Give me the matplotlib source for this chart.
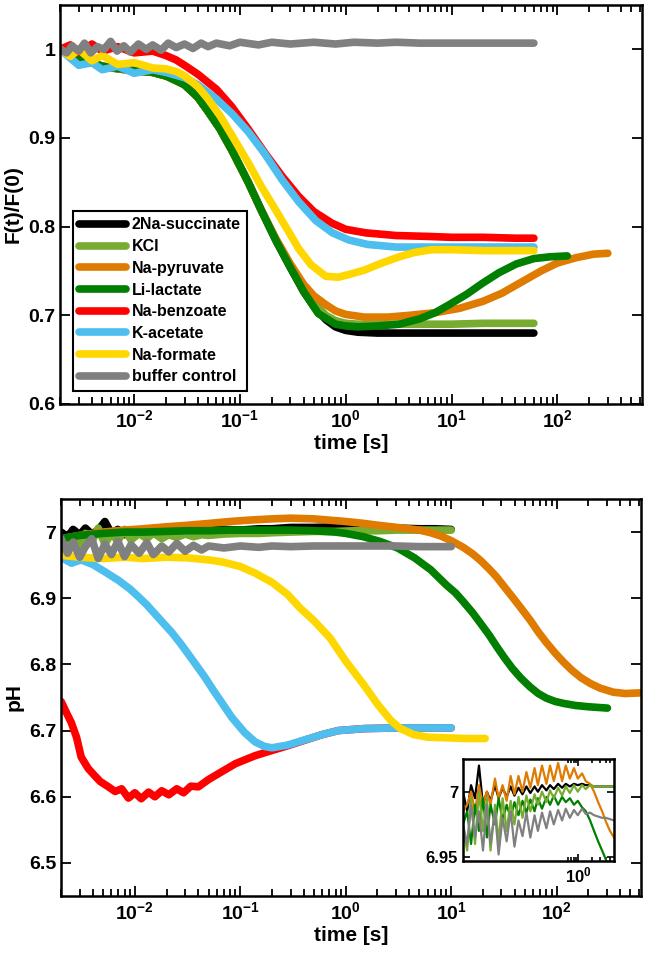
import numpy as np
import matplotlib
matplotlib.use('Agg')
import matplotlib.pyplot as plt
from matplotlib.ticker import FixedLocator, NullFormatter, LogFormatterSciNotation

plt.rcParams['font.family'] = ['Liberation Sans', 'DejaVu Sans']
plt.rcParams['font.weight'] = 'bold'
plt.rcParams['axes.labelweight'] = 'bold'
plt.rcParams['mathtext.fontset'] = 'custom'
plt.rcParams['mathtext.rm'] = 'Liberation Sans:bold'
plt.rcParams['mathtext.bf'] = 'Liberation Sans:bold'
plt.rcParams['mathtext.it'] = 'Liberation Sans:bold:italic'

# colours / names
names = ['2Na-succinate', 'KCl', 'Na-pyruvate', 'Li-lactate',
         'Na-benzoate', 'K-acetate', 'Na-formate', 'buffer control']
cols = ['#000000', '#77AC30', '#DE7B00', '#007F00',
        '#FF0000', '#4DBEEE', '#FFD700', '#808080']

# ---------------- top panel: F(t)/F(0) ----------------
t_suc = [0.002, 0.0025, 0.003, 0.004, 0.005, 0.007, 0.01, 0.015, 0.02, 0.025, 0.03, 0.04, 0.05,
         0.065, 0.085, 0.12, 0.16, 0.22, 0.3, 0.4, 0.5, 0.65, 0.8, 1.0, 1.3, 2, 3, 5, 10, 20,
         40, 60]
f_suc = [1.0, 0.994, 0.99, 0.985, 0.981, 0.978, 0.976, 0.974, 0.97, 0.966, 0.96, 0.946, 0.93,
         0.91, 0.885, 0.85, 0.818, 0.784, 0.754, 0.727, 0.71, 0.695, 0.687, 0.683, 0.681, 0.68,
         0.68, 0.68, 0.68, 0.68, 0.68, 0.68]
t_kcl = t_suc
f_kcl = [1.0, 0.994, 0.99, 0.985, 0.981, 0.978, 0.976, 0.974, 0.97, 0.966, 0.96, 0.946, 0.93,
         0.91, 0.885, 0.85, 0.818, 0.785, 0.756, 0.73, 0.714, 0.7, 0.694, 0.691, 0.69, 0.69,
         0.69, 0.69, 0.69, 0.691, 0.691, 0.691]
t_pyr = [0.002, 0.003, 0.005, 0.01, 0.015, 0.02, 0.03, 0.04, 0.05, 0.065, 0.085, 0.12, 0.16,
         0.22, 0.3, 0.4, 0.5, 0.65, 0.8, 1.0, 1.5, 2.5, 4, 7, 12, 20, 30, 45, 70, 100, 150,
         220, 300]
f_pyr = [1.0, 0.99, 0.981, 0.976, 0.974, 0.97, 0.96, 0.946, 0.93, 0.91, 0.885, 0.85, 0.818,
         0.786, 0.758, 0.735, 0.722, 0.712, 0.705, 0.701, 0.698, 0.698, 0.70, 0.703, 0.708,
         0.716, 0.725, 0.737, 0.75, 0.759, 0.765, 0.769, 0.77]
t_lac = [0.002, 0.003, 0.005, 0.01, 0.015, 0.02, 0.03, 0.04, 0.05, 0.065, 0.085, 0.12, 0.16,
         0.22, 0.3, 0.4, 0.55, 0.8, 1.0, 1.3, 2, 3.2, 5, 7, 9.5, 14, 19.5, 28, 41, 60, 85, 124]
f_lac = [1.0, 0.99, 0.981, 0.976, 0.974, 0.97, 0.96, 0.946, 0.93, 0.91, 0.885, 0.85, 0.818,
         0.784, 0.754, 0.727, 0.702, 0.69, 0.688, 0.687, 0.688, 0.69, 0.696, 0.703, 0.712,
         0.724, 0.736, 0.748, 0.758, 0.764, 0.766, 0.767]
t_ben = [0.002, 0.0025, 0.003, 0.004, 0.005, 0.007, 0.01, 0.015, 0.02, 0.025, 0.03, 0.04, 0.06,
         0.083, 0.12, 0.175, 0.25, 0.36, 0.5, 0.74, 1.0, 1.55, 3, 6, 10, 20, 40, 60]
f_ben = [1.0, 1.005, 0.996, 1.006, 0.998, 1.003, 0.996, 0.998, 0.993, 0.988, 0.982, 0.972,
         0.955, 0.936, 0.91, 0.882, 0.857, 0.834, 0.817, 0.804, 0.797, 0.793, 0.79, 0.789,
         0.788, 0.788, 0.787, 0.787]
t_ace = [0.002, 0.0025, 0.003, 0.004, 0.005, 0.007, 0.01, 0.015, 0.02, 0.03, 0.04, 0.06, 0.085,
         0.12, 0.17, 0.25, 0.36, 0.52, 0.75, 1.07, 1.6, 3, 6, 10, 20, 40, 60]
f_ace = [1.0, 0.99, 0.982, 0.985, 0.977, 0.981, 0.973, 0.977, 0.974, 0.968, 0.96, 0.944,
         0.927, 0.907, 0.883, 0.853, 0.828, 0.807, 0.793, 0.785, 0.78, 0.777, 0.777, 0.777,
         0.777, 0.777, 0.777]
t_for = [0.002, 0.0025, 0.003, 0.004, 0.005, 0.007, 0.01, 0.015, 0.02, 0.025, 0.03, 0.04, 0.05,
         0.065, 0.085, 0.12, 0.16, 0.22, 0.28, 0.36, 0.47, 0.65, 0.85, 1.07, 1.5, 2.2, 3.2,
         4.5, 6.5, 10, 20, 40, 60]
f_for = [1.0, 0.992, 1.0, 0.987, 0.993, 0.983, 0.985, 0.979, 0.978, 0.975, 0.97, 0.958, 0.944,
         0.925, 0.902, 0.872, 0.845, 0.818, 0.797, 0.775, 0.757, 0.744, 0.743, 0.746, 0.751,
         0.759, 0.766, 0.771, 0.774, 0.774, 0.773, 0.773, 0.773]
t_buf = [0.002, 0.0023, 0.0026, 0.003, 0.0034, 0.0039, 0.0045, 0.0052, 0.006, 0.0069, 0.008,
         0.0092, 0.011, 0.013, 0.015, 0.018, 0.021, 0.025, 0.03, 0.036, 0.043, 0.05, 0.06, 0.08,
         0.1, 0.15, 0.2, 0.3, 0.5, 0.8, 1.2, 2, 3, 5, 8, 12, 20, 30, 45, 60]
f_buf = [1.0, 0.996, 1.004, 0.998, 1.007, 0.996, 1.003, 1.0, 1.009, 0.998, 1.004, 0.997, 1.006,
         1.0, 1.005, 0.999, 1.007, 1.002, 1.006, 1.001, 1.007, 1.003, 1.007, 1.004, 1.008, 1.005,
         1.008, 1.006, 1.008, 1.006, 1.008, 1.007, 1.008, 1.007, 1.007, 1.007, 1.007, 1.007,
         1.007, 1.007]

# ---------------- bottom panel: pH ----------------
t_noise = [0.002, 0.0023, 0.0026, 0.003, 0.0034, 0.0039, 0.0045, 0.0052, 0.006, 0.0069, 0.008,
           0.0092, 0.011, 0.013, 0.015, 0.018, 0.021, 0.025, 0.03, 0.036, 0.043, 0.05, 0.07,
           0.1, 0.15, 0.2, 0.3, 0.5, 0.8, 1.2, 2, 3, 5, 7, 10]
p_suc = [7.0, 6.993, 7.004, 6.996, 7.006, 6.997, 7.003, 7.016, 6.998, 7.004, 6.996, 7.002,
         6.997, 7.003, 6.998, 7.003, 6.999, 7.002, 7.0, 7.003, 7.001, 7.003, 7.004, 7.003, 7.005,
         7.005, 7.007, 7.007, 7.008, 7.007, 7.006, 7.006, 7.005, 7.005, 7.004]
p_kcl = [6.972, 6.982, 6.993, 6.978, 6.998, 6.985, 7.006, 6.982, 6.998, 6.986, 7.004, 6.988,
         6.998, 6.99, 6.999, 6.99, 6.996, 6.992, 6.997, 6.993, 6.996, 6.995, 6.997, 6.998, 6.998,
         6.999, 7.0, 7.001, 7.001, 7.002, 7.002, 7.003, 7.003, 7.003, 7.003]
pt_pyr = [0.002, 0.003, 0.005, 0.008, 0.012, 0.02, 0.03, 0.05, 0.08, 0.12, 0.2, 0.3, 0.5, 0.7,
          1.0, 1.5, 2.1, 3.5, 5, 6.4, 8, 10, 13, 16, 19, 23, 27, 32, 38, 46, 56, 67, 80, 97,
          117, 140, 170, 210, 260, 345, 450, 620]
p_pyr = [6.99, 6.995, 7.0, 7.003, 7.005, 7.008, 7.01, 7.013, 7.016, 7.018, 7.02, 7.021, 7.02,
         7.018, 7.016, 7.013, 7.01, 7.006, 7.003, 6.999, 6.994, 6.987, 6.977, 6.967, 6.957,
         6.944, 6.932, 6.917, 6.902, 6.885, 6.867, 6.849, 6.833, 6.817, 6.803, 6.791, 6.78,
         6.771, 6.764, 6.758, 6.756, 6.757]
pt_lac = [0.002, 0.003, 0.005, 0.008, 0.012, 0.02, 0.03, 0.05, 0.08, 0.12, 0.2, 0.3, 0.5, 0.8,
          1.0, 1.47, 2.1, 3.1, 4.5, 6.4, 9, 11, 13, 16, 19, 23, 27, 32, 38, 46, 56, 67, 80,
          97, 117, 150, 200, 303]
p_lac = [6.99, 6.995, 6.998, 7.0, 7.0, 7.001, 7.002, 7.002, 7.003, 7.003, 7.003, 7.003, 7.002,
         7.0, 6.998, 6.993, 6.986, 6.976, 6.961, 6.943, 6.92, 6.908, 6.895, 6.878, 6.862, 6.844,
         6.827, 6.81, 6.794, 6.779, 6.766, 6.756, 6.749, 6.744, 6.741, 6.738, 6.736, 6.734]
pt_ben = [0.002, 0.0022, 0.0025, 0.0028, 0.0031, 0.0036, 0.0041, 0.0047, 0.0055, 0.0065,
          0.0075, 0.0087, 0.01, 0.0115, 0.0135, 0.0155, 0.018, 0.021, 0.025, 0.029, 0.034,
          0.04, 0.05, 0.067, 0.09, 0.138, 0.2, 0.28, 0.4, 0.6, 0.85, 1.5, 3, 5, 10]
p_ben = [6.744, 6.73, 6.712, 6.69, 6.66, 6.643, 6.633, 6.623, 6.616, 6.608, 6.612, 6.598,
         6.606, 6.597, 6.607, 6.6, 6.609, 6.603, 6.612, 6.606, 6.616, 6.615, 6.626, 6.638,
         6.65, 6.662, 6.67, 6.677, 6.685, 6.694, 6.7, 6.703, 6.704, 6.704, 6.704]
pt_ace = [0.002, 0.0025, 0.0031, 0.004, 0.0052, 0.007, 0.009, 0.0107, 0.013, 0.015, 0.018,
          0.0225, 0.027, 0.032, 0.039, 0.046, 0.055, 0.065, 0.083, 0.11, 0.138, 0.17, 0.2,
          0.28, 0.41, 0.6, 0.85, 1.5, 3, 5, 10]
p_ace = [6.962, 6.953, 6.958, 6.951, 6.94, 6.927, 6.914, 6.903, 6.89, 6.879, 6.865, 6.848,
         6.832, 6.816, 6.797, 6.781, 6.762, 6.745, 6.72, 6.697, 6.683, 6.676, 6.674, 6.678,
         6.686, 6.694, 6.7, 6.703, 6.704, 6.704, 6.704]
pt_for = [0.002, 0.003, 0.005, 0.008, 0.012, 0.02, 0.032, 0.05, 0.067, 0.1, 0.138, 0.2, 0.28,
          0.37, 0.5, 0.71, 1.0, 1.47, 2.0, 2.65, 3.3, 4.4, 6, 9.2, 14, 21]
p_for = [6.965, 6.962, 6.96, 6.962, 6.96, 6.962, 6.961, 6.958, 6.955, 6.948, 6.938, 6.924,
         6.906, 6.885, 6.866, 6.84, 6.805, 6.77, 6.74, 6.716, 6.703, 6.694, 6.69, 6.689, 6.688,
         6.688]
p_buf = [6.99, 6.968, 6.985, 6.962, 6.978, 6.99, 6.96, 6.982, 6.966, 6.986, 6.963, 6.981, 6.968,
         6.984, 6.966, 6.979, 6.97, 6.983, 6.971, 6.98, 6.973, 6.979, 6.976, 6.979, 6.977,
         6.979, 6.978, 6.979, 6.979, 6.979, 6.979, 6.979, 6.978, 6.978, 6.978]

# ---------------- inset: raw pH near 7 ----------------
t_in = [0.003, 0.0037, 0.0045, 0.0055, 0.0067, 0.0082, 0.010, 0.012, 0.015, 0.018, 0.022,
        0.027, 0.033, 0.040, 0.049, 0.060, 0.073, 0.089, 0.11, 0.13, 0.16, 0.20, 0.24, 0.29,
        0.36, 0.44, 0.53, 0.65, 0.80, 0.97, 1.2, 1.45, 1.8, 2.2, 2.7, 3.3, 4.0, 4.9, 6.0]
in_suc = [7.0, 6.985, 7.005, 6.995, 7.02, 6.99, 7.0, 6.993, 7.005, 6.995, 7.003, 6.996, 7.004,
          6.997, 7.003, 6.998, 7.004, 6.999, 7.004, 7.0, 7.005, 7.001, 7.005, 7.002, 7.006,
          7.003, 7.006, 7.004, 7.006, 7.005, 7.006, 7.005, 7.005, 7.004, 7.004, 7.004, 7.004,
          7.004, 7.004]
in_pyr = [6.985, 6.99, 7.0, 6.985, 7.005, 6.99, 7.0, 6.99, 7.01, 6.995, 7.005, 6.993, 7.012,
          6.998, 7.012, 7.0, 7.015, 7.003, 7.018, 7.005, 7.02, 7.006, 7.02, 7.008, 7.022, 7.008,
          7.02, 7.01, 7.018, 7.01, 7.014, 7.008, 7.006, 7.0, 6.992, 6.985, 6.977, 6.97, 6.965]
in_lac = [6.975, 6.985, 6.96, 6.99, 6.97, 6.995, 6.965, 6.99, 6.975, 6.995, 6.978, 6.99, 6.98,
          6.992, 6.982, 6.993, 6.984, 6.994, 6.985, 6.995, 6.987, 6.996, 6.99, 6.997, 6.99,
          6.996, 6.992, 6.995, 6.99, 6.993, 6.988, 6.985, 6.978, 6.97, 6.962, 6.955, 6.948,
          6.94, 6.935]
in_kcl = [6.97, 6.955, 6.995, 6.96, 7.0, 6.97, 6.995, 6.955, 6.99, 6.962, 6.995, 6.97, 6.993,
          6.975, 6.996, 6.98, 6.997, 6.985, 6.998, 6.99, 7.0, 6.992, 7.001, 6.995, 7.003, 6.997,
          7.004, 6.999, 7.005, 7.0, 7.005, 7.002, 7.005, 7.004, 7.004, 7.004, 7.004, 7.004,
          7.004]
in_buf = [6.975, 6.96, 6.99, 6.965, 6.985, 6.955, 6.99, 6.96, 6.985, 6.952, 6.98, 6.962, 6.985,
          6.958, 6.978, 6.966, 6.984, 6.965, 6.982, 6.97, 6.984, 6.972, 6.985, 6.975, 6.986,
          6.978, 6.987, 6.98, 6.986, 6.982, 6.987, 6.983, 6.984, 6.982, 6.981, 6.98, 6.98,
          6.979, 6.978]

top = [(t_suc, f_suc), (t_kcl, f_kcl), (t_pyr, f_pyr), (t_lac, f_lac),
       (t_ben, f_ben), (t_ace, f_ace), (t_for, f_for), (t_buf, f_buf)]
bot = [(t_noise, p_suc), (t_noise, p_kcl), (pt_pyr, p_pyr), (pt_lac, p_lac),
       (pt_ben, p_ben), (pt_ace, p_ace), (pt_for, p_for), (t_noise, p_buf)]
ins = [(in_suc, 0), (in_pyr, 2), (in_lac, 3), (in_kcl, 1), (in_buf, 7)]

W, H = 647, 965
fig = plt.figure(figsize=(W / 100, H / 100), dpi=100)
ax1 = fig.add_axes([60 / W, 1 - 404 / H, 582 / W, 399 / H])
ax2 = fig.add_axes([61 / W, 1 - 896 / H, 580 / W, 397 / H])
axin = fig.add_axes([463 / W, 1 - 861 / H, 151 / W, 102 / H])

major_x = [1e-3, 1e-2, 1e-1, 1e0, 1e1, 1e2, 1e3]
minor_x = [k * 10.0 ** e for e in range(-3, 3) for k in range(2, 10)]

lw = 5.5
for (t, y), c, n in zip(top, cols, names):
    ax1.plot(t, y, color=c, lw=lw, label=n, solid_capstyle='round', solid_joinstyle='round')
for (t, y), c in zip(bot, cols):
    ax2.plot(t, y, color=c, lw=lw, solid_capstyle='round', solid_joinstyle='round')
for y, k in ins:
    axin.plot(t_in, y, color=cols[k], lw=1.6)

for ax in (ax1, ax2):
    ax.set_xscale('log')
    ax.xaxis.set_major_locator(FixedLocator(major_x))
    ax.xaxis.set_major_formatter(LogFormatterSciNotation())
    ax.xaxis.set_minor_locator(FixedLocator(minor_x))
    ax.xaxis.set_minor_formatter(NullFormatter())
    ax.set_xlim(10 ** -2.7, 10 ** 2.8)
    ax.tick_params(which='both', direction='in', top=True, right=True, width=1.3,
                   labelsize=14)
    ax.tick_params(which='major', length=7)
    ax.tick_params(which='minor', length=5)
    for s in ax.spines.values():
        s.set_linewidth(1.8)
    ax.set_xlabel('time [s]', fontsize=15, labelpad=2)

ax1.set_ylim(0.6, 1.05)
ax1.set_yticks([0.6, 0.7, 0.8, 0.9, 1.0])
ax1.set_yticklabels(['0.6', '0.7', '0.8', '0.9', '1'])
ax1.set_ylabel('F(t)/F(0)', fontsize=15)

ax2.set_ylim(6.45, 7.05)
ax2.set_yticks([6.5, 6.6, 6.7, 6.8, 6.9, 7.0])
ax2.set_yticklabels(['6.5', '6.6', '6.7', '6.8', '6.9', '7'])
ax2.set_ylabel('pH', fontsize=15)

axin.set_xscale('log')
axin.set_xlim(0.003, 6)
axin.set_ylim(6.947, 7.025)
axin.set_yticks([6.95, 7.0])
axin.set_yticklabels(['6.95', '7'])
axin.xaxis.set_major_locator(FixedLocator([1.0]))
axin.xaxis.set_major_formatter(LogFormatterSciNotation())
axin.xaxis.set_minor_locator(FixedLocator([0.6, 0.7, 0.8, 0.9, 2, 3, 4, 5]))
axin.xaxis.set_minor_formatter(NullFormatter())
axin.tick_params(which='both', direction='in', top=True, right=True, width=1.2, labelsize=12)
axin.tick_params(which='major', length=5)
axin.tick_params(which='minor', length=3)
for s in axin.spines.values():
    s.set_linewidth(1.8)

leg = ax1.legend(loc='lower left', bbox_to_anchor=(0.022, 0.033), borderaxespad=0,
                 fancybox=False, edgecolor='black', framealpha=1, fontsize=11.5,
                 handlelength=2.9, labelspacing=0.42, handletextpad=0.4, borderpad=0.4)
leg.get_frame().set_linewidth(1.5)

fig.savefig('out.png', dpi=100)
